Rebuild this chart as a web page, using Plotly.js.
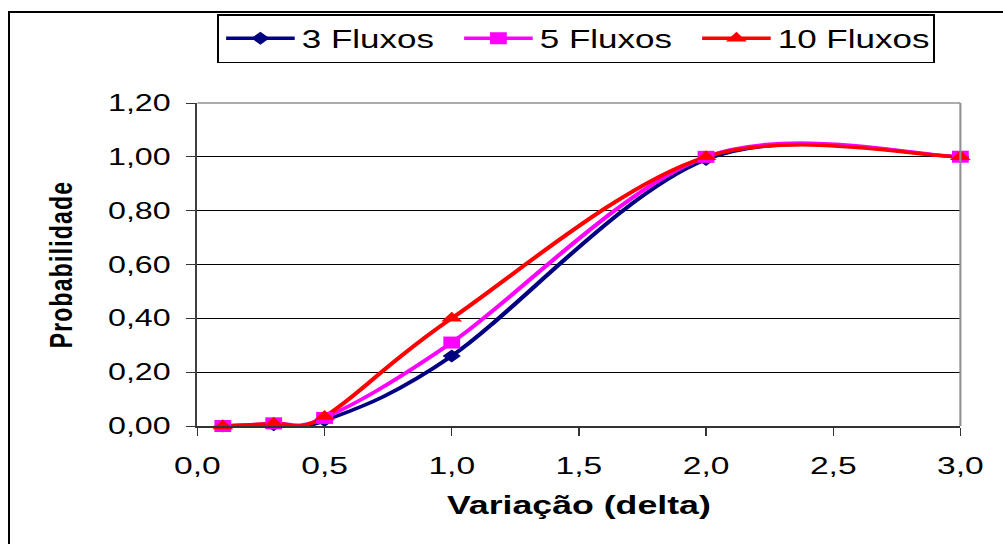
<!DOCTYPE html>
<html>
<head>
<meta charset="utf-8">
<script src="https://cdn.plot.ly/plotly-3.0.1.min.js"></script>
<style>
  html, body { margin: 0; padding: 0; background: #fff; overflow: hidden; }
  #frame {
    position: absolute; left: 8px; top: 11px; width: 1100px; height: 600px;
    border-left: 2px solid #000; border-top: 2px solid #000;
    z-index: 5; pointer-events: none;
  }
  /* the chart is laid out narrow and widened horizontally */
  #chart {
    position: absolute; left: 0; top: 0; width: 717px; height: 544px;
    transform: scaleX(1.4); transform-origin: 0 0;
  }
  #chart .ytitle { letter-spacing: 1.2px; }
</style>
</head>
<body>
<div id="frame"></div>
<div id="chart"></div>
<script>
// Probability of detection versus variation (delta)
const delta    = [0.1, 0.3, 0.5, 1.0, 2.0, 3.0];
const fluxos3  = [0.00, 0.005, 0.02, 0.26, 0.99, 1.00];
const fluxos5  = [0.00, 0.01, 0.03, 0.31, 1.00, 1.00];
const fluxos10 = [0.00, 0.01, 0.035, 0.40, 1.00, 1.00];
const seriesNames  = ['3 Fluxos', '5 Fluxos', '10 Fluxos'];
const seriesColors = ['#000080', '#FF00FF', '#FF0000'];
const seriesValues = [fluxos3, fluxos5, fluxos10];
const markerSymbols = ['diamond', 'square', 'triangle-up'];
const markerSizes   = [10, 12, 13];

const FONT = '"Liberation Sans", Arial, sans-serif';

// Smoothed line through the points: cubic Bezier segments whose handles
// follow the neighbouring points (handle = (P[i+1] - P[i-1]) / 6).
function smoothPath(xs, ys) {
  const n = xs.length;
  let d = 'M' + xs[0] + ',' + ys[0];
  for (let i = 0; i < n - 1; i++) {
    const p = Math.max(i - 1, 0), q = Math.min(i + 2, n - 1);
    const c1x = xs[i] + (xs[i + 1] - xs[p]) / 6;
    const c1y = ys[i] + (ys[i + 1] - ys[p]) / 6;
    const c2x = xs[i + 1] - (xs[q] - xs[i]) / 6;
    const c2y = ys[i + 1] - (ys[q] - ys[i]) / 6;
    d += ' C' + c1x + ',' + c1y + ' ' + c2x + ',' + c2y + ' ' + xs[i + 1] + ',' + ys[i + 1];
  }
  return d;
}

const data = [];
const curves = [];
seriesNames.forEach(function (name, k) {
  // legend entry (line + marker sample)
  data.push({
    x: [null], y: [null], name: name, type: 'scatter', mode: 'lines+markers',
    legendgroup: name,
    line: { color: seriesColors[k], width: 3.5 },
    marker: { color: seriesColors[k], symbol: markerSymbols[k], size: markerSizes[k], line: { width: 0 } }
  });
  // the measured points
  data.push({
    x: delta, y: seriesValues[k], name: name, type: 'scatter', mode: 'markers',
    legendgroup: name, showlegend: false, cliponaxis: false,
    marker: { color: seriesColors[k], symbol: markerSymbols[k], size: markerSizes[k], line: { width: 0 } }
  });
  // the smoothed curve through them
  curves.push({
    type: 'path', xref: 'x', yref: 'y', layer: 'between',
    path: smoothPath(delta, seriesValues[k]),
    line: { color: seriesColors[k], width: 3.5 }
  });
});

const layout = {
  width: 717, height: 544,
  margin: { l: 141, r: 31, t: 103, b: 118, pad: 0 },
  paper_bgcolor: '#ffffff', plot_bgcolor: '#ffffff',
  separators: ', ',
  font: { family: FONT, color: '#000', size: 23 },
  showlegend: true,
  legend: {
    orientation: 'h', x: 0.0257, y: 1.2755, xanchor: 'left', yanchor: 'top',
    bordercolor: '#000', borderwidth: 1.5, bgcolor: '#fff',
    font: { family: FONT, size: 25, color: '#000' },
    traceorder: 'normal', itemwidth: 49, entrywidth: 106
  },
  xaxis: {
    range: [0, 3], tickvals: [0, 0.5, 1, 1.5, 2, 2.5, 3], tickformat: '.1f',
    showgrid: false, zeroline: false,
    showline: true, linecolor: '#333', linewidth: 1.5,
    ticks: 'outside', ticklen: 8, tickwidth: 1, tickcolor: '#333',
    ticklabelstandoff: 10,
    tickfont: { family: FONT, size: 24 },
    title: { text: '<b>Variação (delta)</b>', font: { family: FONT, size: 25.5 }, standoff: 18 }
  },
  yaxis: {
    range: [0, 1.2], tickvals: [0, 0.2, 0.4, 0.6, 0.8, 1.0, 1.2], tickformat: '.2f',
    showgrid: true, gridcolor: '#000', gridwidth: 1, zeroline: false,
    showline: true, linecolor: '#404040', linewidth: 2,
    ticks: 'outside', ticklen: 6.5, tickwidth: 1, tickcolor: '#333',
    ticklabelstandoff: 6,
    tickfont: { family: FONT, size: 23 },
    title: { text: '<b>Probabilidade</b>', font: { family: FONT, size: 23 }, standoff: 19 }
  },
  shapes: curves.concat([
    { type: 'line', xref: 'paper', yref: 'paper', x0: 0, x1: 1, y0: 1, y1: 1,
      line: { color: '#909090', width: 1.5 }, layer: 'above' },
    { type: 'line', xref: 'paper', yref: 'paper', x0: 1, x1: 1, y0: 0, y1: 1,
      line: { color: '#909090', width: 1.5 }, layer: 'above' }
  ])
};

Plotly.newPlot('chart', data, layout, { staticPlot: true, displayModeBar: false });
</script>
</body>
</html>
